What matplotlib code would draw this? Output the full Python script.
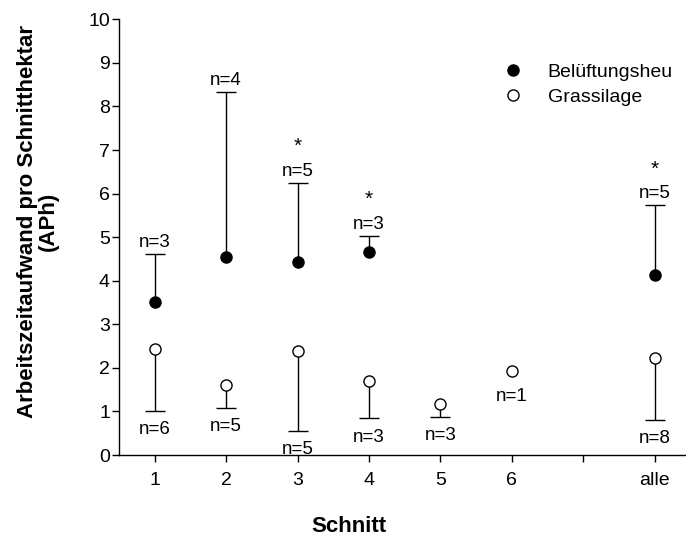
import numpy as np
import matplotlib
matplotlib.use("Agg")
import matplotlib.pyplot as plt

plt.rcParams["font.family"] = ["Liberation Sans", "DejaVu Sans"]

# ---- Daten ----
tick_labels = ["1", "2", "3", "4", "5", "6", "", "alle"]

heu_cat = ["1", "2", "3", "4", "alle"]
heu_mean = [3.52, 4.55, 4.43, 4.65, 4.14]
heu_upper = [4.61, 8.34, 6.25, 5.03, 5.74]
heu_n = [3, 4, 5, 3, 5]
heu_sig = [False, False, True, True, True]

gras_cat = ["1", "2", "3", "4", "5", "6", "alle"]
gras_mean = [2.44, 1.61, 2.39, 1.70, 1.18, 1.93, 2.23]
gras_lower = [1.01, 1.09, 0.56, 0.84, 0.87, np.nan, 0.80]
gras_n = [6, 5, 5, 3, 3, 1, 8]


def pos(cats):
    return np.array([tick_labels.index(c) + 1 for c in cats], dtype=float)


fig = plt.figure(figsize=(6.86, 5.36), dpi=100)
ax = fig.add_axes([119 / 686, 81 / 536, 571.4 / 686, 435.7 / 536])

xh = pos(heu_cat)
yh = np.array(heu_mean)
up = np.array(heu_upper) - yh
eb = ax.errorbar(xh, yh, yerr=[np.zeros_like(up), up], fmt="none",
                 ecolor="k", elinewidth=1.0, capsize=7, capthick=1.0, zorder=2)
eb[1][0].set_visible(False)

xg = pos(gras_cat)
yg = np.array(gras_mean)
lo = yg - np.array(gras_lower)
m = ~np.isnan(lo)
eb = ax.errorbar(xg[m], yg[m], yerr=[lo[m], np.zeros(m.sum())], fmt="none",
                 ecolor="k", elinewidth=1.0, capsize=7, capthick=1.0, zorder=2)
eb[1][1].set_visible(False)

ax.plot(xh, yh, "o", ms=8, mfc="k", mec="k", ls="none", zorder=3,
        label="Belüftungsheu")
ax.plot(xg, yg, "o", ms=8, mfc="white", mec="k", mew=1.0, ls="none", zorder=3,
        label="Grassilage")

# n-Angaben und Signifikanz
fs_n = 13.5
for x, top, n, s in zip(xh, heu_upper, heu_n, heu_sig):
    ax.annotate(f"n={n}", (x, top), xytext=(0, 5.0), textcoords="offset points",
                ha="center", va="baseline", fontsize=fs_n)
    if s:
        ax.annotate("*", (x, top), xytext=(0, 22.0), textcoords="offset points",
                    ha="center", va="baseline", fontsize=15)
for x, y, low, n in zip(xg, gras_mean, gras_lower, gras_n):
    if np.isnan(low):
        ax.annotate(f"n={n}", (x, y), xytext=(0, -21.8), textcoords="offset points",
                    ha="center", va="baseline", fontsize=fs_n)
    else:
        ax.annotate(f"n={n}", (x, low), xytext=(0, -16.8), textcoords="offset points",
                    ha="center", va="baseline", fontsize=fs_n)

ax.set_xlim(0.5, 8.5)
ax.set_ylim(0, 10)
ax.set_xticks(np.arange(1, len(tick_labels) + 1))
ax.set_xticklabels(tick_labels)
ax.set_yticks(np.arange(0, 11))
ax.spines[["top", "right"]].set_visible(False)
for s in ("left", "bottom"):
    ax.spines[s].set_linewidth(1.0)
ax.tick_params(direction="out", length=5, width=1.0, labelsize=14)
ax.tick_params(axis="x", pad=7)
ax.tick_params(axis="y", pad=1.5)

ax.legend(loc="upper left", bbox_to_anchor=(503 / 686, 1 - 63 / 536),
          bbox_transform=fig.transFigure, frameon=False, fontsize=14,
          handlelength=1.0, handletextpad=1.3, labelspacing=0.4,
          borderaxespad=0, borderpad=0)

fig.text(348.5 / 686, 1 - 526.5 / 536, "Schnitt", ha="center", va="center",
         fontsize=16, fontweight="bold")
fig.text(38 / 686, 1 - 221 / 536, "Arbeitszeitaufwand pro Schnitthektar\n(APh)",
         ha="center", va="center", rotation=90, fontsize=16, fontweight="bold",
         multialignment="center", linespacing=1.0)

fig.savefig("out.png", dpi=100)
